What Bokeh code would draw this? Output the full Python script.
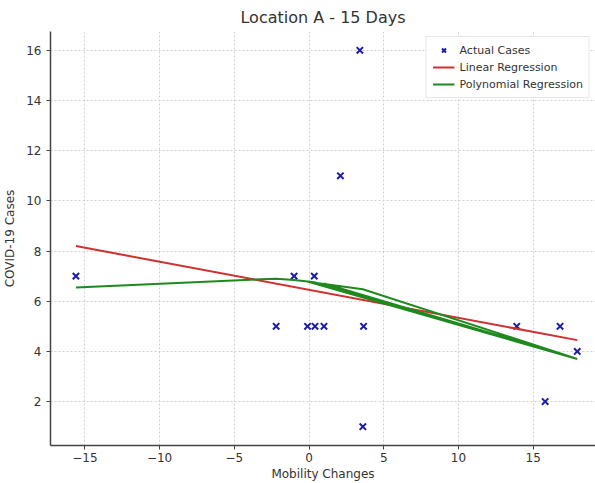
from bokeh.plotting import figure
from bokeh.models import Range1d, FixedTicker, Legend, LegendItem
from bokeh.embed import file_html
from bokeh.resources import INLINE

# Data
case_x = [-15.6, -2.2, -1.0, -0.1, 0.4, 1.0, 0.35, 2.1, 3.4, 3.65, 3.6, 13.9, 15.8, 16.8, 17.95]
case_y = [7, 5, 7, 5, 5, 5, 7, 11, 16, 5, 1, 5, 2, 5, 4]

linear_x = [-15.6, 17.95]
linear_y = [8.2, 4.45]

# polynomial regression path (drawn in data order, as seen in the picture)
poly_x = [-15.6, -2.2, -1.0, 0.35, 17.95, -0.1, 3.6, 17.95, 1.0]
poly_y = [6.55, 6.9, 6.85, 6.76, 3.7, 6.78, 6.48, 3.7, 6.71]

x_ticks = [-15, -10, -5, 0, 5, 10, 15]
y_ticks = [2, 4, 6, 8, 10, 12, 14, 16]

title_text = "Location A - 15 Days"
x_label = "Mobility Changes"
y_label = "COVID-19 Cases"

FONT = "DejaVu Sans"
TXT = "#333333"

p = figure(width=595, height=483, output_backend="svg", toolbar_location=None,
           x_range=Range1d(-17.3, 19.17), y_range=Range1d(0.25, 16.75),
           min_border_left=10, min_border_right=0, min_border_top=0, min_border_bottom=0)

p.title.text = title_text
p.title.align = "center"
p.title.text_font = FONT
p.title.text_font_size = "16px"
p.title.text_font_style = "normal"
p.title.text_color = TXT

p.outline_line_color = None
p.background_fill_color = "white"
p.border_fill_color = "white"

for ax in (p.xaxis[0], p.yaxis[0]):
    ax.axis_line_color = "#444444"
    ax.axis_line_width = 1.5
    ax.major_tick_line_color = "#444444"
    ax.major_tick_out = 4
    ax.major_tick_in = 0
    ax.minor_tick_line_color = None
    ax.major_label_text_font = FONT
    ax.major_label_text_font_size = "12px"
    ax.major_label_text_color = TXT
    ax.axis_label_text_font = FONT
    ax.axis_label_text_font_size = "12px"
    ax.axis_label_text_color = TXT
    ax.axis_label_text_font_style = "normal"

p.xaxis.major_label_standoff = 3
p.xaxis.axis_label_standoff = 2
p.yaxis.axis_label_standoff = 6

p.xaxis.ticker = FixedTicker(ticks=x_ticks)
p.yaxis.ticker = FixedTicker(ticks=y_ticks)
p.xaxis.major_label_overrides = {t: (str(t).replace("-", "\u2212")) for t in x_ticks}
p.xaxis.axis_label = x_label
p.yaxis.axis_label = y_label

for g in (p.xgrid[0], p.ygrid[0]):
    g.grid_line_color = "#d0d0d0"
    g.grid_line_dash = "2 2"
    g.grid_line_width = 1

r_pts = p.scatter(case_x, case_y, marker="x", size=9, line_color="#1c1ca8", line_width=2)
r_lin = p.line(linear_x, linear_y, line_color="#d03030", line_width=2)
r_poly = p.line(poly_x, poly_y, line_color="#1e8a1e", line_width=2)

legend = Legend(items=[
    LegendItem(label="Actual Cases", renderers=[r_pts]),
    LegendItem(label="Linear Regression", renderers=[r_lin]),
    LegendItem(label="Polynomial Regression", renderers=[r_poly]),
], location="top_right")
legend.label_text_font = FONT
legend.label_text_font_size = "11px"
legend.label_text_color = TXT
legend.border_line_color = "#d0d0d0"
legend.border_line_width = 1
legend.background_fill_alpha = 0.9
legend.glyph_width = 22
legend.glyph_height = 14
legend.label_height = 14
legend.spacing = 3
legend.padding = 6
legend.margin = 5
p.add_layout(legend)

open("out.html", "w").write(file_html(p, INLINE))
